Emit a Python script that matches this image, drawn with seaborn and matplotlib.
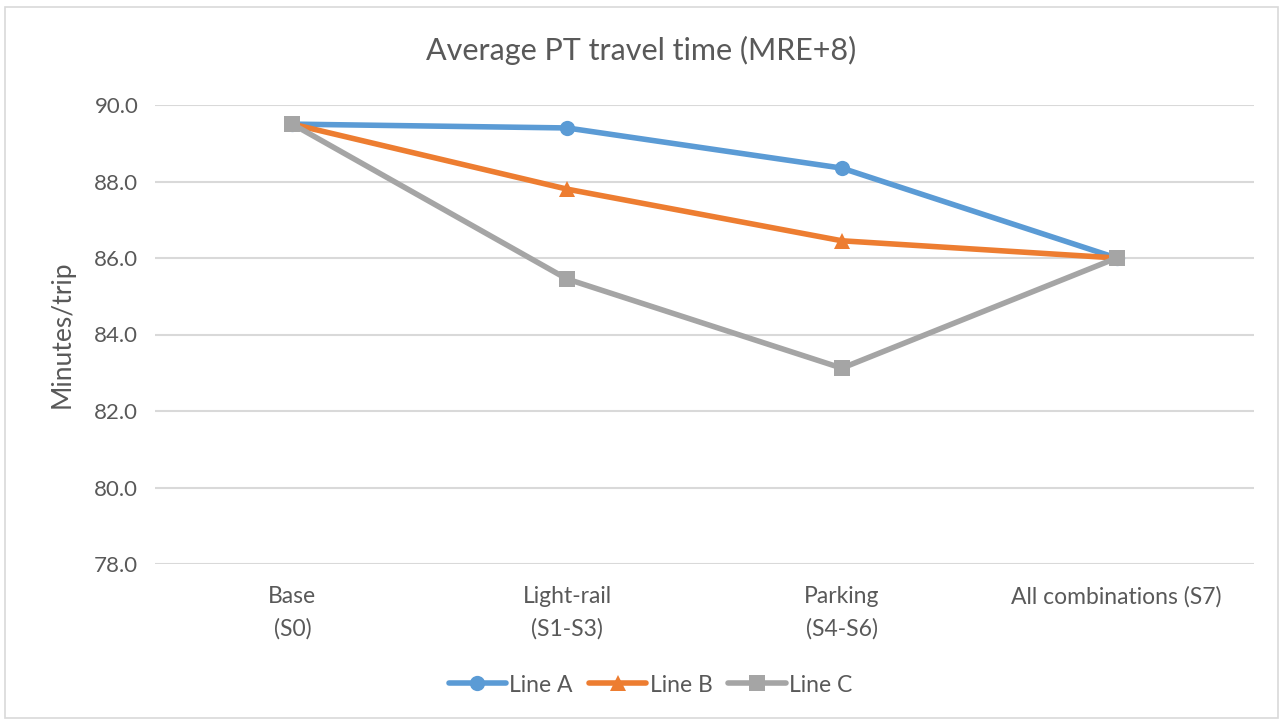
import matplotlib
matplotlib.use("Agg")
import matplotlib.pyplot as plt
import seaborn as sns
import pandas as pd
from matplotlib.patches import Rectangle

categories = ["Base\n(S0)", "Light-rail\n(S1-S3)", "Parking\n(S4-S6)", "All combinations (S7)"]
line_a = [89.5, 89.4, 88.35, 86.0]
line_b = [89.5, 87.8, 86.45, 86.0]
line_c = [89.5, 85.45, 83.12, 86.0]
series_names = ["Line A", "Line B", "Line C"]
yticks = [78.0, 80.0, 82.0, 84.0, 86.0, 88.0, 90.0]

colors = {"Line A": "#5B9BD5", "Line B": "#ED7D31", "Line C": "#A5A5A5"}
markers = {"Line A": "o", "Line B": "^", "Line C": "s"}

rows = []
for name, vals in zip(series_names, [line_a, line_b, line_c]):
    for i, v in enumerate(vals):
        rows.append({"pos": i, "value": v, "series": name})
df = pd.DataFrame(rows)

sns.set_theme(style="white")
plt.rcParams["font.family"] = ["Lato", "DejaVu Sans"]
text_color = "#595959"

fig = plt.figure(figsize=(12.83, 7.21), dpi=100)
ax = fig.add_axes([155 / 1283, 1 - 564 / 721, (1254 - 155) / 1283, (564 - 105) / 721])

sns.lineplot(data=df, x="pos", y="value", hue="series", style="series",
             palette=colors, markers=markers, dashes=False, linewidth=4.0,
             markersize=11, markeredgewidth=0, ax=ax, legend=True)

ax.set_xlim(-0.5, 3.5)
ax.set_ylim(78, 90)
ax.set_yticks(yticks)
ax.set_yticklabels([f"{t:.1f}" for t in yticks], fontsize=16, color=text_color)
ax.set_xticks(range(len(categories)))
ax.set_xticklabels(categories, fontsize=16.5, color=text_color, linespacing=1.6)
ax.tick_params(axis="y", length=0, pad=12)
ax.tick_params(axis="x", length=0, pad=16)
ax.grid(axis="y", color="#D9D9D9", linewidth=1.5)
ax.set_axisbelow(True)
for s in ax.spines.values():
    s.set_visible(False)
ax.set_xlabel("")
ax.set_ylabel("Minutes/trip", fontsize=19, color=text_color, labelpad=14)

fig.suptitle("Average PT travel time (MRE+8)", fontsize=22, color=text_color, y=0.95)

handles, labels = ax.get_legend_handles_labels()
ax.get_legend().remove()
leg = fig.legend(handles, labels, loc="center", bbox_to_anchor=(0.507, 1 - 685 / 721),
                 ncol=3, frameon=False, fontsize=16.5, handlelength=2.5,
                 columnspacing=0.7, handletextpad=0.15)
for t in leg.get_texts():
    t.set_color(text_color)

fig.patches.append(Rectangle((0.004, 0.004), 0.992, 0.986, transform=fig.transFigure,
                             fill=False, edgecolor="#D9D9D9", linewidth=1.2))

fig.savefig("out.png", dpi=100, facecolor="white")
